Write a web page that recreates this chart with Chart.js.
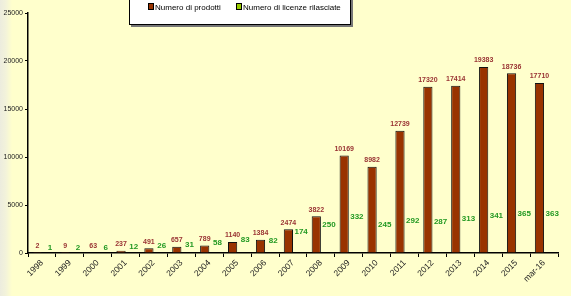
<!DOCTYPE html>
<html><head><meta charset="utf-8">
<script src="https://cdn.jsdelivr.net/npm/chart.js@4/dist/chart.umd.min.js"></script>
<style>
html,body{margin:0;padding:0;}
body{width:571px;height:296px;overflow:hidden;position:relative;background:#FFFFCC;font-family:"Liberation Sans",Arial,sans-serif;}
#strip{position:absolute;left:0;top:0;width:12px;height:296px;background:linear-gradient(90deg,#ececde 0%,#f3f3da 50%,#FFFFCC 100%);}
#wrap{position:absolute;left:0;top:0;width:571px;height:296px;}
#legend{position:absolute;left:129px;top:-12px;width:220px;height:35px;background:#fff;border:1px solid #000;box-shadow:2px 2px 0 #777;font-size:8px;color:#000;}
.item{position:absolute;top:14px;white-space:nowrap;line-height:9px;}
.sw{display:inline-block;width:4px;height:5px;border:1px solid #000;margin-right:1px;vertical-align:0px;}
</style></head>
<body>
<div id="strip"></div>
<div id="wrap"><canvas id="c" width="571" height="296"></canvas></div>
<div id="legend">
 <div class="item" style="left:18px"><span class="sw" style="background:#993300"></span><span id="l1"></span></div>
 <div class="item" style="left:106px"><span class="sw" style="background:#99CC00"></span><span id="l2"></span></div>
</div>
<script>
const categories = ["1998","1999","2000","2001","2002","2003","2004","2005","2006","2007","2008","2009","2010","2011","2012","2013","2014","2015","mar-16"];
const prodotti = [2,9,63,237,491,657,789,1140,1384,2474,3822,10169,8982,12739,17320,17414,19383,18736,17710];
const licenze = [1,2,6,12,26,31,58,83,82,174,250,332,245,292,287,313,341,365,363];
const seriesNames = ["Numero di prodotti","Numero di licenze rilasciate"];
const yTicks = [0,5000,10000,15000,20000,25000];

document.getElementById('l1').textContent = seriesNames[0];
document.getElementById('l2').textContent = seriesNames[1];

const FONT = '"Liberation Sans", Arial, sans-serif';

const labelPlugin = {
  id: 'valueLabels',
  afterDatasetsDraw(chart) {
    const ctx = chart.ctx;
    ctx.save();
    ctx.textAlign = 'center';
    ctx.textBaseline = 'bottom';
    chart.data.datasets.forEach((ds, di) => {
      const meta = chart.getDatasetMeta(di);
      ctx.fillStyle = di === 0 ? '#993333' : '#229922';
      ctx.font = (di === 0 ? 'bold 7px ' : 'bold 8px ') + FONT;
      meta.data.forEach((el, i) => {
        const dx = di === 0 ? 0 : 3.5;
        ctx.fillText(String(ds.data[i]), el.x + dx, el.y - (di === 0 ? 3 : 1));
      });
    });
    ctx.restore();
  }
};

new Chart(document.getElementById('c'), {
  type: 'bar',
  data: {
    labels: categories,
    datasets: [
      { label: seriesNames[0], data: prodotti, backgroundColor: '#993300', borderColor: '#111', borderWidth: 1, yAxisID: 'y',
        categoryPercentage: 0.66, barPercentage: 1.0 },
      { label: seriesNames[1], data: licenze, backgroundColor: 'rgba(0,0,0,0)', borderWidth: 0, yAxisID: 'y2',
        categoryPercentage: 0.66, barPercentage: 1.0 }
    ]
  },
  options: {
    responsive: false,
    animation: false,
    events: [],
    layout: { padding: { top: 13, right: 13, left: 0, bottom: 0 } },
    plugins: { legend: { display: false }, tooltip: { enabled: false }, title: { display: false } },
    scales: {
      x: {
        grid: { display: true, drawOnChartArea: false, offset: true, color: '#000', tickLength: 4, tickWidth: 1 },
        border: { display: true, color: '#000', width: 1.5 },
        ticks: { minRotation: 45, maxRotation: 45, autoSkip: false, color: '#222', font: { family: FONT, size: 8.5 }, padding: 1 },
        afterFit(s) { s.height = 43; }
      },
      y: {
        min: 0, max: 25000,
        afterBuildTicks(s) { s.ticks = yTicks.map(v => ({ value: v })); },
        grid: { display: true, drawOnChartArea: false, color: '#000', tickLength: 3 },
        border: { display: true, color: '#000', width: 1.5 },
        ticks: { color: '#222', font: { family: FONT, size: 7 }, padding: 2, callback: v => String(v) },
        afterFit(s) { s.width = 28; }
      },
      y2: {
        display: false, min: 0, max: 2580
      }
    }
  },
  plugins: [labelPlugin]
});
</script>
</body></html>
